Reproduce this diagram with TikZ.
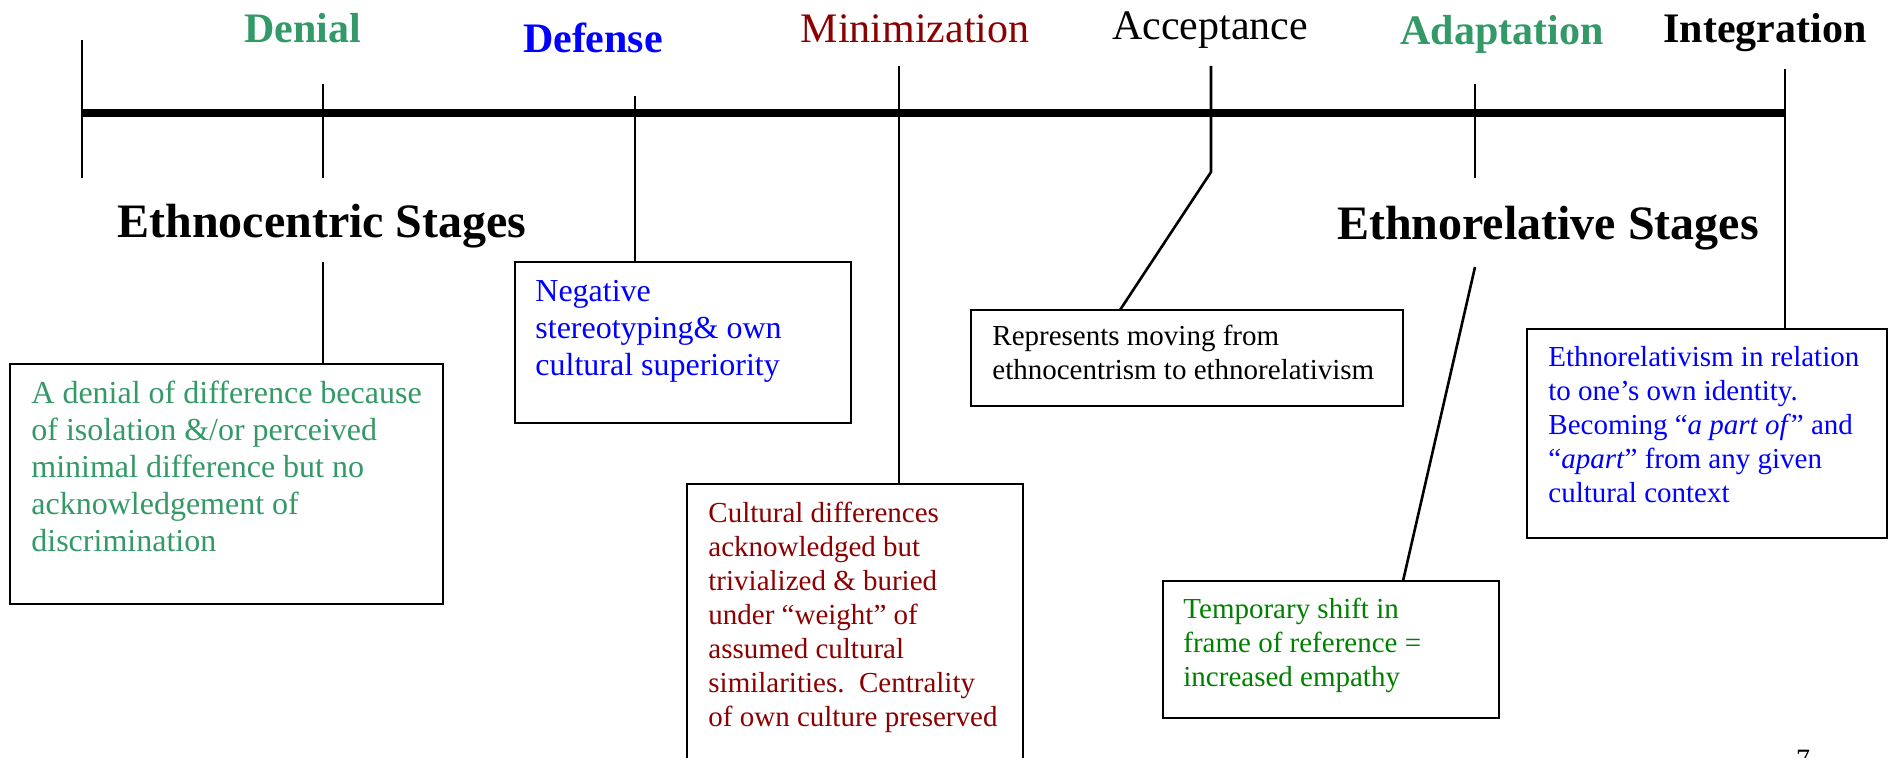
\documentclass[tikz,border=0pt]{standalone}
\usepackage{fontspec}
\setmainfont{Liberation Serif}
\usetikzlibrary{fit}
\definecolor{seagrn}{HTML}{339966}
\definecolor{dkred}{HTML}{8B0000}
\definecolor{grn}{HTML}{008000}
\definecolor{blu}{HTML}{0000FF}
\newcommand{\boxlines}[1]{\begin{tabular}[t]{@{}l@{}}#1\end{tabular}}
\tikzset{
  stagelbl/.style={anchor=base, inner sep=0pt, font=\fontsize{21pt}{25pt}\selectfont},
  stagelblb/.style={anchor=base, inner sep=0pt, font=\fontsize{21pt}{25pt}\selectfont\bfseries},
  grouplbl/.style={anchor=base, inner sep=0pt, font=\fontsize{24pt}{28pt}\selectfont\bfseries},
  mainline/.style={line width=3.75pt},
  tickline/.style={line width=1.3pt},
  boxst/.style={draw, line width=1.3pt, inner sep=0pt, outer sep=0pt},
  txtbig/.style={anchor=base west, inner sep=0pt, font=\fontsize{16pt}{18.5pt}\selectfont},
  txtsmall/.style={anchor=base west, inner sep=0pt, font=\fontsize{14.5pt}{17pt}\selectfont},
}
\begin{document}
\begin{tikzpicture}[x=0.5pt, y=-0.5pt]
\useasboundingbox (0,0) rectangle (1889,758);

% stage labels
\node[stagelblb, text=seagrn] (denial) at (303,43) {Denial};
\node[stagelblb, text=blu] (defense) at (593,53) {Defense};
\node[stagelbl, text=dkred] (minim) at (915,43) {Minimization};
\node[stagelbl] (accept) at (1210,40) {Acceptance};
\node[stagelblb, text=seagrn] (adapt) at (1502,45) {Adaptation};
\node[stagelblb] (integ) at (1765,43) {Integration};

% group labels
\node[grouplbl] (ethnoc) at (322,238) {Ethnocentric Stages};
\node[grouplbl] (ethnor) at (1548,240) {Ethnorelative Stages};

% boxes
\node[boxst, fit={(10,364) (443,604)}] (denialbox) {};
\node[boxst, fit={(515,262) (851,423)}] (defensebox) {};
\node[boxst, fit={(687,484) (1023,800)}] (minbox) {};
\node[boxst, fit={(971,310) (1403,406)}] (accbox) {};
\node[boxst, fit={(1163,581) (1499,718)}] (adaptbox) {};
\node[boxst, fit={(1527,329) (1887,538)}] (intbox) {};

% box texts
\node[txtbig, text=seagrn] (denialtxt) at (31,404) {\boxlines{A denial of difference because\\ of isolation \&/or perceived\\ minimal difference but no\\ acknowledgement of\\ discrimination}};
\node[txtbig, text=blu] (defensetxt) at (535,302) {\boxlines{Negative\\ stereotyping\& own\\ cultural superiority}};
\node[txtsmall, text=dkred] (mintxt) at (708,523) {\boxlines{Cultural differences\\ acknowledged but\\ trivialized \& buried\\ under “weight” of\\ assumed cultural\\ similarities.\ \ Centrality\\ of own culture preserved}};
\node[txtsmall] (acctxt) at (992,346) {\boxlines{Represents moving from\\ ethnocentrism to ethnorelativism}};
\node[txtsmall, text=grn] (adapttxt) at (1183,618) {\boxlines{Temporary shift in\\ frame of reference =\\ increased empathy}};
\node[txtsmall, text=blu] (inttxt) at (1548,367) {\boxlines{Ethnorelativism in relation\\ to one’s own identity.\\ Becoming “\textit{a part of}” and\\ “\textit{apart}” from any given\\ cultural context}};

% page number
\node[anchor=base, inner sep=0pt, font=\fontsize{14pt}{16pt}\selectfont] (pgnum) at (1803,768) {7};

% timeline coordinates
\coordinate (lstart) at (82,113);
\coordinate (lend) at (1785,113);
\coordinate (ltop) at (82,40);
\coordinate (lbot) at (82,178);
\coordinate (dtop) at (323,84);
\coordinate (dbot) at (323,178);
\coordinate (dlow) at (323,262);
\coordinate (ftop) at (635,96);
\coordinate (mtop) at (899,66);
\coordinate (atop) at (1211,66);
\coordinate (abend) at (1211,172);
\coordinate (aend) at (1120,310);
\coordinate (ptop) at (1475,84);
\coordinate (pbot) at (1475,178);
\coordinate (plow) at (1475,267);
\coordinate (pend) at (1403,581);
\coordinate (itop) at (1785,69);

\draw[mainline] (lstart) -- (lend);
\draw[tickline] (ltop) -- (lbot);
\draw[tickline] (dtop) -- (dbot);
\draw[tickline] (dlow) -- (dlow |- denialbox.north);
\draw[tickline] (ftop) -- (ftop |- defensebox.north);
\draw[tickline] (mtop) -- (mtop |- minbox.north);
\draw[tickline] (atop) -- (abend) -- (aend |- accbox.north);
\draw[tickline] (ptop) -- (pbot);
\draw[tickline] (plow) -- (pend |- adaptbox.north);
\draw[tickline] (itop) -- (itop |- intbox.north);
\end{tikzpicture}
\end{document}
